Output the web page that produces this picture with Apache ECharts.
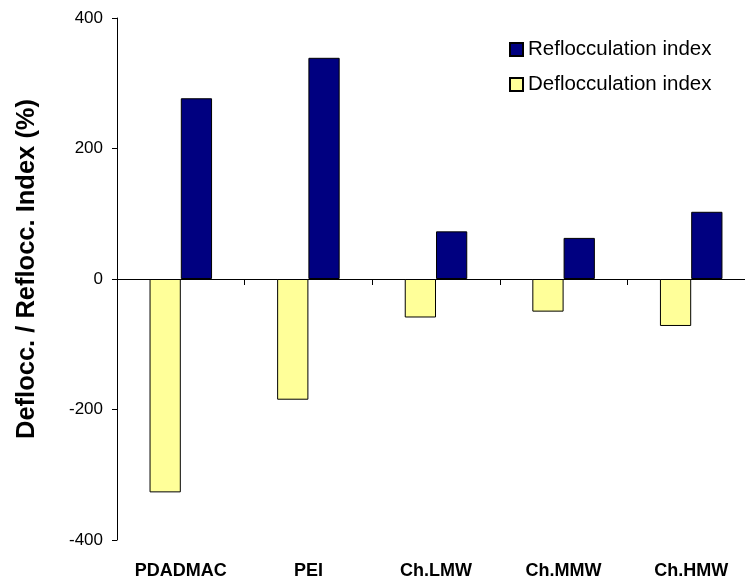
<!DOCTYPE html>
<html>
<head>
<meta charset="utf-8">
<script src="https://cdn.jsdelivr.net/npm/echarts@6/dist/echarts.min.js"></script>
<style>
  html, body { margin: 0; padding: 0; background: #fff; }
  #chart { width: 745px; height: 581px; }
</style>
</head>
<body>
<div id="chart"></div>
<script>
(function() {
  // polymer names
  var categories = ["PDADMAC", "PEI", "Ch.LMW", "Ch.MMW", "Ch.HMW"];
  // indices in %
  var deflocculation = [-327, -185, -59, -50, -72];
  var reflocculation = [277, 339, 73, 63, 103];
  var yTicks = { min: -400, max: 400, step: 200 };

  var font = "Liberation Sans, Arial, sans-serif";
  var myChart = echarts.init(document.getElementById("chart"));

  var option = {
    animation: false,
    textStyle: { fontFamily: font },
    legend: {
      orient: "vertical",
      left: 509,
      top: 39,
      padding: 0,
      itemWidth: 13,
      itemHeight: 13,
      itemGap: 14,
      icon: "rect",
      textStyle: { fontSize: 20.5, color: "#000", fontFamily: font },
      data: ["Reflocculation index", "Deflocculation index"]
    },
    // the axis runs a little past the right edge of the picture
    grid: { left: 117, top: 18, width: 638, height: 522, outerBoundsMode: "none", containLabel: false },
    xAxis: [
      {
        type: "category",
        data: categories,
        axisLine: { onZero: true, lineStyle: { color: "#000", width: 1 } },
        axisTick: { show: true, inside: false, length: 6, lineStyle: { color: "#000" } },
        axisLabel: { show: false }
      },
      {
        type: "category",
        data: categories,
        position: "bottom",
        axisLine: { show: false, onZero: false },
        axisTick: { show: false },
        axisLabel: { margin: 22, fontSize: 18, fontWeight: "bold", color: "#000", fontFamily: font }
      }
    ],
    yAxis: {
      type: "value",
      min: yTicks.min,
      max: yTicks.max,
      interval: yTicks.step,
      name: "Deflocc. / Reflocc. Index (%)",
      nameLocation: "middle",
      nameGap: 77,
      nameTextStyle: { fontSize: 25.5, fontWeight: "bold", color: "#000", fontFamily: font, padding: [0, 0, 0, 20] },
      axisLine: { show: true, lineStyle: { color: "#000" } },
      axisTick: { show: true, length: 5, lineStyle: { color: "#000" } },
      axisLabel: { margin: 14, fontSize: 17, color: "#000", fontFamily: font },
      splitLine: { show: false }
    },
    series: [
      {
        name: "Deflocculation index",
        type: "bar",
        data: deflocculation,
        barGap: "0%",
        barCategoryGap: "51%",
        itemStyle: { color: "#FFFF99", borderColor: "#000", borderWidth: 1 }
      },
      {
        name: "Reflocculation index",
        type: "bar",
        data: reflocculation,
        barGap: "0%",
        barCategoryGap: "51%",
        itemStyle: { color: "#000080", borderColor: "#000", borderWidth: 1 }
      }
    ]
  };
  myChart.setOption(option);
  window.addEventListener("resize", function() {
    myChart.resize();
  });
})();
</script>
</body>
</html>
